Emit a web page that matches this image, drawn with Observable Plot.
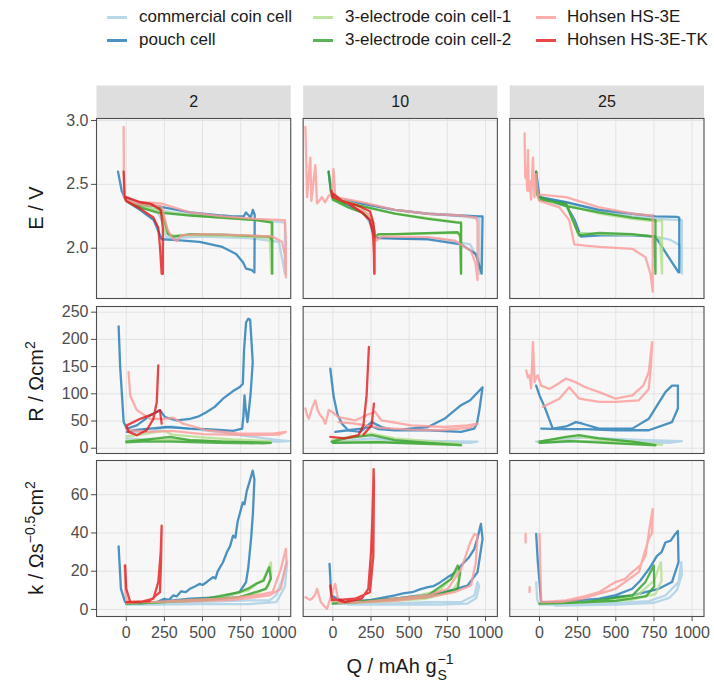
<!DOCTYPE html>
<html><head><meta charset="utf-8">
<script src="https://cdn.jsdelivr.net/npm/d3@7"></script>
<script src="https://cdn.jsdelivr.net/npm/@observablehq/plot@0.6"></script>
<style>
body{margin:0;background:#fff;font-family:"Liberation Sans",Arial,sans-serif;}
#wrap{position:relative;width:714px;height:690px;overflow:hidden;}
.leg{position:absolute;font-size:17px;color:#1a1a1a;white-space:nowrap;line-height:20px;}
.key{position:absolute;width:20px;height:3px;opacity:0.8;}
</style></head><body><div id="wrap"></div>
<script>
// ---------- data ----------
const SERIES = ["commercial coin cell","pouch cell","3-electrode coin cell-1","3-electrode coin cell-2","Hohsen HS-3E","Hohsen HS-3E-TK"];
const COLORS = ["#a6cee3","#1f78b4","#b2df8a","#33a02c","#fb9a99","#e31a1c"];
const FACETS = ["2","10","25"];
const X_TICKS = [0,250,500,750,1000];
const E_TICKS = [2.0,2.5,3.0];
const R_TICKS = [0,50,100,150,200,250];
const K_TICKS = [0,20,40,60];

// E / V  (Q, E pairs)
const E2_cc = [0,2.40, 100,2.33, 200,2.30, 240,2.20, 260,2.09, 300,2.08, 500,2.09, 800,2.08, 1000,2.05, 1040,1.80, 1040,2.20, 900,2.22, 600,2.24, 300,2.28, 100,2.33, 0,2.38];
const E2_pc = [-54,2.60, -30,2.45, 0,2.37, 90,2.30, 180,2.22, 215,2.12, 232,2.07, 310,2.065, 480,2.05, 630,2.01, 720,1.955, 765,1.89, 785,1.84, 820,1.83, 840,1.81, 842,2.26, 830,2.30, 815,2.24, 800,2.26, 785,2.28, 770,2.25, 700,2.25, 630,2.256, 420,2.28, 200,2.33, 90,2.36, 0,2.39];
const E2_c1 = [0,2.37, 100,2.33, 200,2.30, 235,2.25, 260,2.12, 300,2.10, 500,2.10, 800,2.09, 940,2.08, 950,1.80, 950,2.21, 800,2.225, 600,2.24, 400,2.26, 200,2.29, 90,2.32, 0,2.37];
const E2_c2 = [0,2.37, 90,2.34, 200,2.33, 232,2.30, 275,2.11, 310,2.09, 420,2.11, 630,2.107, 940,2.09, 955,2.06, 957,1.80, 957,2.20, 850,2.22, 630,2.24, 420,2.256, 200,2.28, 90,2.32, 0,2.37];
const E2_hs = [-17,2.95, -15,2.40, 0,2.37, 100,2.34, 230,2.33, 270,2.15, 300,2.08, 330,2.055, 360,2.10, 500,2.11, 800,2.10, 960,2.09, 1020,2.05, 1040,1.95, 1046,1.77, 1046,2.05, 1040,2.22, 1024,2.22, 850,2.23, 634,2.25, 417,2.28, 230,2.35, 100,2.36, 0,2.38];
const E2_tk = [-17,2.60, -10,2.40, 0,2.37, 91,2.31, 178,2.24, 210,2.16, 221,2.01, 232,1.80, 240,1.80, 240,2.16, 226,2.30, 156,2.35, 90,2.36, 0,2.40];

const E10_cc = [0,2.40, 100,2.33, 200,2.28, 240,2.20, 265,2.09, 400,2.08, 700,2.075, 900,2.03, 955,1.90, 960,1.80, 960,2.23, 850,2.25, 620,2.27, 400,2.30, 200,2.35, 0,2.40];
const E10_pc = [-28,2.60, -10,2.42, 0,2.40, 100,2.34, 189,2.29, 240,2.22, 265,2.12, 286,2.08, 400,2.075, 623,2.07, 840,2.03, 937,1.955, 975,1.80, 981,2.25, 960,2.25, 840,2.256, 623,2.27, 406,2.30, 189,2.35, 50,2.38, 0,2.42];
const E10_c1 = [0,2.38, 189,2.32, 260,2.20, 275,2.10, 406,2.11, 818,2.12, 835,2.08, 840,1.80, 840,2.20, 818,2.205, 623,2.235, 406,2.27, 189,2.33, 0,2.40];
const E10_c2 = [-28,2.60, -10,2.42, 0,2.38, 100,2.32, 189,2.28, 254,2.22, 270,2.15, 276,2.09, 300,2.11, 406,2.11, 818,2.125, 835,2.10, 840,1.80, 840,2.20, 818,2.20, 623,2.23, 406,2.27, 189,2.33, 50,2.36, 0,2.38];
const E10_hs = [-180,2.95, -169,2.40, -148,2.71, -141,2.37, -115,2.65, -104,2.35, -90,2.37, -72,2.40, -50,2.36, -28,2.41, -7,2.43, 4,2.62, 15,2.41, 145,2.32, 232,2.27, 265,2.16, 286,2.06, 320,2.09, 406,2.09, 623,2.086, 797,2.06, 905,1.98, 935,1.88, 948,1.75, 948,2.20, 940,2.24, 840,2.256, 623,2.27, 406,2.30, 189,2.36, 60,2.39, 15,2.40];
const E10_tk = [-10,2.45, 0,2.40, 102,2.35, 189,2.28, 243,2.22, 262,2.12, 265,2.06, 269,1.95, 271,1.80, 273,1.80, 273,2.10, 265,2.20, 243,2.29, 150,2.34, 60,2.37, 0,2.43];

const E25_cc = [0,2.38, 174,2.33, 230,2.22, 260,2.12, 400,2.11, 700,2.10, 850,2.07, 925,2.02, 933,1.80, 933,2.22, 760,2.23, 608,2.25, 391,2.29, 174,2.36, 0,2.40];
const E25_pc = [-22,2.60, 0,2.40, 174,2.34, 230,2.22, 271,2.09, 400,2.10, 608,2.10, 760,2.09, 846,1.93, 911,1.81, 916,1.81, 916,2.24, 900,2.245, 760,2.25, 608,2.27, 391,2.30, 174,2.36, 0,2.40];
const E25_c1 = [0,2.38, 174,2.34, 220,2.22, 250,2.12, 400,2.11, 700,2.10, 790,2.08, 803,1.80, 803,2.22, 760,2.21, 608,2.23, 391,2.27, 174,2.34, 0,2.38];
const E25_c2 = [-22,2.60, -15,2.42, 0,2.38, 174,2.35, 217,2.22, 260,2.10, 391,2.12, 608,2.11, 750,2.09, 760,1.80, 760,2.22, 608,2.24, 391,2.28, 174,2.33, 0,2.40];
const E25_hs = [-98,2.90, -93,2.55, -87,2.63, -80,2.45, -76,2.77, -70,2.45, -65,2.53, -55,2.38, -43,2.71, -33,2.40, -22,2.58, -10,2.40, 0,2.37, 130,2.32, 195,2.22, 228,2.03, 300,2.02, 391,2.01, 608,1.995, 694,1.93, 727,1.80, 742,1.66, 742,2.26, 738,2.256, 608,2.27, 391,2.32, 174,2.40, 0,2.42];

// R / Ohm cm2
const R2_cc = [0,35, 50,30, 150,30, 250,38, 300,40, 400,36, 600,30, 800,22, 1000,15, 1068,13, 1000,12, 700,12, 400,14, 200,15, 0,18];
const R2_pc = [-50,224, -40,150, -28,97, -17,48, 4,36, 69,42, 156,60, 221,70, 254,57, 330,51, 417,54, 470,58, 525,66, 580,76, 634,91, 700,105, 742,112, 764,118, 772,180, 785,231, 800,238, 812,236, 820,200, 829,158, 815,100, 800,60, 794,48, 782,75, 775,97, 768,60, 760,36, 700,32, 634,33, 520,35, 417,36, 265,39, 156,36, 48,33, 4,30];
const R2_c1 = [0,22, 100,25, 200,30, 250,32, 300,25, 500,20, 700,16, 950,13, 900,12, 600,13, 300,16, 100,15, 0,14];
const R2_c2 = [0,12, 100,15, 200,18, 286,21, 417,15, 634,12, 948,10, 900,9, 600,10, 300,12, 100,12, 0,11];
const R2_hs = [15,140, 26,97, 69,70, 156,54, 243,54, 308,56, 373,45, 525,33, 742,27, 959,27, 1046,30, 1000,25, 800,24, 500,26, 300,32, 150,30, 4,33];
const R2_tk = [4,39, 15,30, 69,24, 134,33, 178,54, 200,85, 210,152, null,null, 232,45, 221,70, 178,63, 91,54, 4,42];

const R10_cc = [-10,12, 100,14, 250,18, 400,15, 700,13, 948,12, 900,10, 600,10, 300,12, 0,10];
const R10_pc = [-17,146, 5,95, 30,62, 60,45, 100,33, 180,30, 254,48, 319,39, 406,33, 623,33, 840,30, 926,36, 944,45, 960,70, 981,112, 900,88, 840,79, 731,54, 623,39, 406,33, 300,35, 254,40, 189,36, 100,33, 15,30];
const R10_c1 = [-7,15, 80,20, 254,27, 406,18, 623,13, 840,8, 800,7, 600,9, 300,12, 0,12];
const R10_c2 = [-7,12, 80,18, 254,24, 406,15, 623,10, 840,5.5, 800,6, 600,8, 300,11, 0,10];
const R10_hs = [-180,73, -169,60, -158,54, -135,75, -115,88, -100,70, -82,60, -65,55, -50,45, -35,60, -28,70, -7,67, 37,57, 145,51, 230,62, 276,67, 319,51, 514,42, 731,39, 883,42, 948,45, 900,38, 700,33, 500,34, 300,38, 145,45, 37,48];
const R10_tk = [-17,21, 80,18, 167,24, 200,42, 221,97, 236,186, null,null, 200,25, 254,42, 269,82];

const R25_cc = [-22,12, 100,15, 300,20, 500,17, 700,15, 933,13, 850,10, 600,11, 300,13, 0,10];
const R25_pc = [-22,115, 0,97, 33,76, 87,36, 174,40, 239,48, 282,45, 391,36, 608,36, 716,54, 825,103, 868,115, 907,115, 907,73, 868,48, 716,33, 500,33, 300,35, 150,35, 11,36];
const R25_c1 = [0,12, 174,20, 260,22, 391,16, 608,12, 803,6, 760,7, 500,10, 200,14, 0,10];
const R25_c2 = [0,12, 174,21, 260,24, 391,18, 608,12, 760,5.5, 700,6, 500,9, 200,13, 0,10];
const R25_hs = [-87,143, -76,130, -65,134, -55,110, -43,195, -33,121, -22,130, -11,134, 11,115, 65,109, 120,118, 174,128, 239,121, 300,112, 391,103, 499,91, 608,97, 680,115, 716,140, 738,195, 730,150, 716,109, 651,88, 499,85, 391,85, 260,91, 195,112, 130,91, 22,76];

// k / Ohm s^-0.5 cm2
const k2_cc = [0,3, 200,3, 400,3.8, 600,4.2, 800,4.7, 940,4.7, 981,7.3, 1020,15, 1046,23, 1055,25, 1040,12, 1000,6, 981,3.8, 800,2.8, 500,2.8, 200,2.5, 0,2.5];
const k2_pc = [-50,33, -35,10.8, -7,3.8, 91,3, 200,3.8, 250,5.5, 280,5, 308,7.3, 330,6.8, 360,9.5, 390,9, 417,10.8, 450,12, 482,13.4, 500,12.8, 530,14.5, 569,16.9, 585,16.2, 600,20, 634,24.7, 660,30, 680,33, 700,38.6, 715,37.5, 730,46, 764,56, 775,55, 790,62, 807,66.5, 829,72.6, 840,68, 830,50, 818,36.9, 800,22, 785,14.3, 742,9, 634,6.4, 417,5.6, 200,3.8, 4,3];
const k2_c1 = [0,3, 200,3.5, 400,4.5, 600,6, 800,10, 900,16, 948,24.7, 950,18, 930,12, 850,8, 600,5, 300,4, 0,3];
const k2_c2 = [0,3, 250,3.8, 525,5.6, 742,9, 800,11, 851,13.4, 900,15, 937,22, 948,16, 916,10.8, 742,6.4, 500,4.7, 250,4, 0,3];
const k2_hs = [-11,23, -5,8, 4,4, 200,4, 417,5, 634,5.6, 851,7.3, 959,9, 1013,21, 1046,31.7, 1050,24.7, 1013,10.8, 937,7.3, 700,5, 400,4.2, 100,3.8, 4,3.5];
const k2_tk = [-7,23, 0,10.8, 26,3.8, 91,3.8, 178,5.6, 210,14.3, 226,30, 232,43.8, 228,25, 221,9, 150,4.3, 4,3.8];

const k10_cc = [-7,3, 200,2.8, 400,3.2, 623,3.8, 840,3.8, 927,7.3, 948,14.3, 958,12, 940,6, 880,3, 700,2.5, 400,2.5, 100,2.5];
const k10_pc = [-22,23.8, -11,7.3, 80,3.8, 250,5, 406,7.3, 460,8.4, 520,9, 570,10.5, 623,11.7, 660,12.2, 700,14, 753,16.9, 800,19, 840,23, 890,27, 927,31.7, 950,38, 970,44.7, 981,36.9, 948,19.5, 883,12.5, 731,9, 406,5.6, 80,3.8];
const k10_c1 = [0,3.5, 300,4.5, 500,6, 700,10, 800,18, 818,21, 825,15, 780,9, 600,5.5, 300,4, 0,3.5];
const k10_c2 = [0,3, 406,5.6, 623,7.3, 775,16, 818,23, 835,19.5, 818,10.8, 623,6.4, 300,4.5, 0,3];
const k10_hs = [-180,6.4, -150,5, -137,5.6, -115,8, -104,10.8, -80,4, -60,2, -39,0.3, -17,5.6, 15,13.4, 37,3.8, 200,3.8, 406,5.6, 623,7.3, 753,10.8, 840,21, 900,35, 927,39.5, 948,38.6, 937,24.7, 905,12.5, 797,9, 623,6.4, 406,4.5, 189,3.8, 37,3.5];
const k10_tk = [-17,12.5, -7,5.6, 80,3.8, 189,5.6, 232,10.8, 250,30, 258,45.6, 265,65, 267,73.4, 269,66, 265,28, 243,9, 145,5.6, -7,4.7];

const k25_cc = [-22,14.3, -15,5, 0,2.5, 200,2.5, 400,3, 608,3.8, 716,4.3, 825,7.3, 911,14.3, 929,24.7, 933,18, 900,10, 850,6, 750,3.5, 500,2.5, 100,2];
const k25_pc = [-22,39.5, -11,24.7, 11,3.8, 174,3.8, 391,5.6, 500,7.5, 608,10.8, 660,15, 716,21, 770,28, 800,30, 825,35, 860,36, 890,39.5, 907,41, 911,24.7, 868,14.3, 781,10.8, 608,7.3, 391,5.6, 130,3.8];
const k25_c1 = [0,3, 300,4, 500,5, 650,8, 750,15, 796,24.7, 800,15, 760,8, 600,5, 300,3.8, 0,3];
const k25_c2 = [0,3, 300,3.8, 608,7.3, 694,14.3, 749,23, 752,12, 700,7, 500,4.5, 200,3.5, 0,3];
const k25_hs = [-91,35, -91,39.5, null,null, -65,9, -65,11.7, null,null, 0,39.5, 11,3.8, 174,4.7, 300,7, 391,9, 450,12, 499,14.3, 560,16, 608,19.5, 660,23, 694,28, 727,45.6, 742,52.5, 738,40, 716,37, 651,19.5, 499,10.8, 282,5.6, 150,4, 11,3.8];

const CURVES = [
  ["E","2",0,E2_cc],["E","2",1,E2_pc],["E","2",2,E2_c1],["E","2",3,E2_c2],["E","2",4,E2_hs],["E","2",5,E2_tk],
  ["E","10",0,E10_cc],["E","10",1,E10_pc],["E","10",2,E10_c1],["E","10",3,E10_c2],["E","10",4,E10_hs],["E","10",5,E10_tk],
  ["E","25",0,E25_cc],["E","25",1,E25_pc],["E","25",2,E25_c1],["E","25",3,E25_c2],["E","25",4,E25_hs],
  ["R","2",0,R2_cc],["R","2",1,R2_pc],["R","2",2,R2_c1],["R","2",3,R2_c2],["R","2",4,R2_hs],["R","2",5,R2_tk],
  ["R","10",0,R10_cc],["R","10",1,R10_pc],["R","10",2,R10_c1],["R","10",3,R10_c2],["R","10",4,R10_hs],["R","10",5,R10_tk],
  ["R","25",0,R25_cc],["R","25",1,R25_pc],["R","25",2,R25_c1],["R","25",3,R25_c2],["R","25",4,R25_hs],
  ["k","2",0,k2_cc],["k","2",1,k2_pc],["k","2",2,k2_c1],["k","2",3,k2_c2],["k","2",4,k2_hs],["k","2",5,k2_tk],
  ["k","10",0,k10_cc],["k","10",1,k10_pc],["k","10",2,k10_c1],["k","10",3,k10_c2],["k","10",4,k10_hs],["k","10",5,k10_tk],
  ["k","25",0,k25_cc],["k","25",1,k25_pc],["k","25",2,k25_c1],["k","25",3,k25_c2],["k","25",4,k25_hs]
];

// ---------- build ----------
const pts = [];
CURVES.forEach(([row, col, s, arr], id) => {
  for (let j = 0; j < arr.length; j += 2) pts.push({row, col, series: SERIES[s], order: s, q: arr[j], v: arr[j+1], id});
});
pts.sort((a,b) => a.order - b.order || a.id - b.id);

const wrap = document.getElementById("wrap");
const FONT = '"Liberation Sans", Arial, sans-serif';
const ML = 96, MR = 10.5, W = 714;
const fxOpt = {domain: FACETS, paddingInner: 0.06, paddingOuter: 0, round: false, axis: null};

function place(node, top) { node.style.position = "absolute"; node.style.left = "0px"; node.style.top = top + "px"; wrap.appendChild(node); return node; }

// legend
const legPos = [[107,139],[313,345],[536,567]];
SERIES.forEach((s, i) => {
  const c = Math.floor(i/2), r = i % 2;
  const y = r === 0 ? 17 : 40;
  const key = document.createElement("div"); key.className = "key";
  key.style.left = legPos[c][0] + "px"; key.style.top = (y - 1.5) + "px"; key.style.background = COLORS[i];
  wrap.appendChild(key);
  const t = document.createElement("div"); t.className = "leg"; t.textContent = s;
  t.style.left = legPos[c][1] + "px"; t.style.top = (y - 10) + "px";
  wrap.appendChild(t);
});

// strips
const strip = Plot.plot({
  width: W, height: 33, marginLeft: ML, marginRight: MR, marginTop: 0, marginBottom: 0,
  fx: fxOpt,
  style: {fontFamily: FONT, background: "transparent", overflow: "visible"},
  marks: [
    Plot.frame({fill: "#dedede", stroke: "none"}),
    Plot.text(FACETS.map(f => ({col: f})), {fx: "col", text: "col", frameAnchor: "middle", fontSize: 16, fill: "#1a1a1a"})
  ]
});
place(strip, 85);

function rowPlot(row, top, panelH, domain, ticks, fmt, bottomAxis) {
  const mb = bottomAxis ? 74 : 2;
  const p = Plot.plot({
    width: W, height: 2 + panelH + mb, marginLeft: ML, marginRight: MR, marginTop: 2, marginBottom: mb,
    fx: fxOpt,
    x: {domain: [-195, 1078]},
    y: {domain},
    color: {domain: SERIES, range: COLORS},
    style: {fontFamily: FONT, fontSize: "16px", color: "#4d4d4d", background: "transparent", overflow: "visible"},
    marks: [
      Plot.frame({fill: "#f7f7f7", stroke: "none"}),
      Plot.gridX({ticks: X_TICKS, stroke: "#e3e3e3", strokeOpacity: 1, strokeWidth: 1}),
      Plot.gridY({ticks, stroke: "#e3e3e3", strokeOpacity: 1, strokeWidth: 1}),
      Plot.line(pts.filter(d => d.row === row), {x: "q", y: "v", z: "id", fx: "col", stroke: "series", strokeOpacity: 0.8, strokeWidth: 2.3, strokeLinejoin: "round"}),
      Plot.frame({stroke: "#4d4d4d", strokeWidth: 1.1}),
      Plot.axisY({ticks, tickFormat: fmt, tickSize: 5, tickPadding: 3, label: null, fontSize: 16, anchor: "left"}),
      bottomAxis ? Plot.axisX({ticks: X_TICKS, tickFormat: d3.format("d"), tickSize: 5, tickPadding: 5, label: null, fontSize: 16, anchor: "bottom"}) : Plot.axisX({ticks: [], label: null})
    ]
  });
  return place(p, top);
}

const r1 = rowPlot("E", 116, 180, [1.606, 3.016], E_TICKS, d3.format(".1f"), false);
const r2 = rowPlot("R", 304, 147, [-9.7, 260.4], R_TICKS, d3.format("d"), false);
const r3 = rowPlot("k", 458, 156, [-3.7, 77.9], K_TICKS, d3.format("d"), true);

// rich text titles
function richTitle(svg, x, y, parts) {
  const t = d3.select(svg).append("text")
    .attr("transform", `translate(${x},${y}) rotate(-90)`)
    .attr("text-anchor", "middle").attr("fill", "#1a1a1a")
    .style("font-family", FONT).style("font-size", "20px");
  let shift = 0;
  parts.forEach(([txt, kind]) => {
    const target = kind === "sup" ? -8 : 0;
    const ts = t.append("tspan").text(txt).attr("dy", target - shift);
    if (kind === "sup") ts.style("font-size", "14px");
    shift = target;
  });
  return t;
}
function svgOf(n) { return n.tagName.toLowerCase() === "svg" ? n : n.querySelector("svg"); }
richTitle(svgOf(r1), 43, 92, [["E / V"]]);
richTitle(svgOf(r2), 43, 77.5, [["R / Ωcm"], ["2","sup"]]);
richTitle(svgOf(r3), 43, 80, [["k / Ωs"], ["−0.5","sup"], ["cm"], ["2","sup"]]);

// x title with stacked sub/superscript
(function(){
  const svg = d3.select(svgOf(r3));
  const g = svg.append("g").attr("font-family", FONT).attr("fill", "#1a1a1a").attr("text-anchor", "start");
  const main = g.append("text").attr("y", 215).attr("text-anchor", "start").style("font-size", "20px").text("Q / mAh g");
  const w = main.node().getComputedTextLength();
  const total = w + 17;
  const x0 = 400 - total / 2;
  main.attr("x", x0);
  g.append("text").attr("x", x0 + w + 1).attr("y", 206).attr("text-anchor", "start").style("font-size", "14px").text("−1");
  g.append("text").attr("x", x0 + w + 1).attr("y", 222).attr("text-anchor", "start").style("font-size", "14px").text("S");
})();
</script></body></html>
